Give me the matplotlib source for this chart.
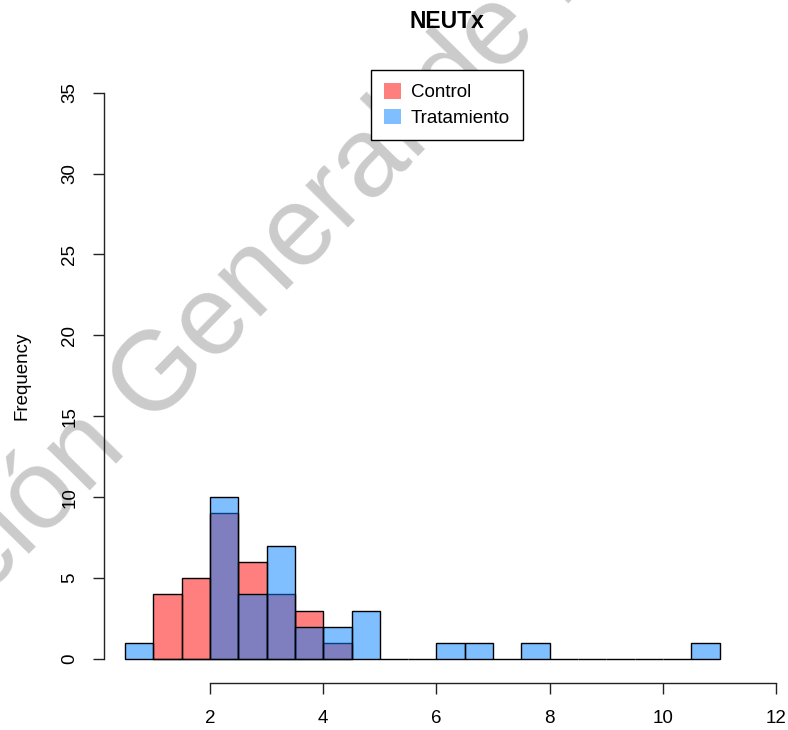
import numpy as np
import matplotlib
matplotlib.use("Agg")
import matplotlib.pyplot as plt
from matplotlib.patches import Patch

plt.rcParams['font.family'] = ['Liberation Sans', 'DejaVu Sans']

# Histogram bins (width 0.5) and counts per group
bin_edges = [0.5, 1.0, 1.5, 2.0, 2.5, 3.0, 3.5, 4.0, 4.5, 5.0, 5.5, 6.0,
             6.5, 7.0, 7.5, 8.0, 8.5, 9.0, 9.5, 10.0, 10.5, 11.0]
control_edges = [1.0, 1.5, 2.0, 2.5, 3.0, 3.5, 4.0, 4.5]
control_counts = [4, 5, 9, 6, 4, 3, 1]
trat_counts = [1, 0, 0, 10, 4, 7, 2, 2, 3, 0, 0, 1, 1, 0, 1, 0, 0, 0, 0, 0, 1]

group_labels = ["Control", "Tratamiento"]
title = "NEUTx"
x_ticks = [2, 4, 6, 8, 10, 12]
y_ticks = [0, 5, 10, 15, 20, 25, 30, 35]

red = (1.0, 0.0, 0.0, 0.5)
blue = (0.0, 0.5, 1.0, 0.5)

W, H = 788, 730
fig = plt.figure(figsize=(W / 100, H / 100), dpi=100)

# plot region in pixels: left 104, right 782, top 70, bottom 683
ax = fig.add_axes([104 / W, 1 - 683 / H, (782 - 104) / W, (683 - 70) / H])
ax.set_xlim(0.13, 12.1)
ax.set_ylim(-1.48, 36.4)
ax.patch.set_facecolor('none')


def draw_hist(edges, counts, color):
    edges = np.asarray(edges)
    ax.bar(edges[:-1], counts, width=np.diff(edges), align='edge',
           color=color, edgecolor='black', linewidth=1.0)


draw_hist(control_edges, control_counts, red)
draw_hist(bin_edges, trat_counts, blue)

for s in ('top', 'right'):
    ax.spines[s].set_visible(False)
ax.spines['left'].set_bounds(0, 35)
ax.spines['bottom'].set_bounds(2, 12)
for s in ('left', 'bottom'):
    ax.spines[s].set_linewidth(1.0)
    ax.spines[s].set_color('#222222')

ax.set_xticks(x_ticks)
ax.set_yticks(y_ticks)
ax.tick_params(axis='both', direction='out', length=8.1, width=1.0,
               color='#222222', labelsize=13.5)
ax.tick_params(axis='x', pad=11)
ax.tick_params(axis='y', pad=10.5)
for lab in ax.get_yticklabels():
    lab.set_rotation(90)
    lab.set_va('center')

fig.text(22 / W, 1 - 376 / H, "Frequency", rotation=90, fontsize=13.5,
         ha='center', va='center')
fig.text(447 / W, 1 - 22 / H, title, fontsize=16.5, fontweight='bold',
         ha='center', va='center')

handles = [Patch(facecolor=red, edgecolor='none'),
           Patch(facecolor=blue, edgecolor='none')]
leg = ax.legend(handles, group_labels, loc='upper center',
                bbox_to_anchor=((447 - 104) / (782 - 104), 1.0),
                borderaxespad=0, fancybox=False, framealpha=1,
                edgecolor='black', fontsize=13.5, handlelength=0.9,
                handleheight=0.9, handletextpad=0.5, labelspacing=0.4,
                borderpad=0.7)
leg.get_frame().set_linewidth(1.0)

# watermark across the page, behind the plot
fig.text(-200 / W, 1 - 785 / H, "Dirección General de Bibliotecas",
         rotation=45.5, rotation_mode='anchor', ha='left', va='baseline',
         fontsize=81, color='#cbcbcb', zorder=-1)

fig.savefig("out.png", dpi=100)
